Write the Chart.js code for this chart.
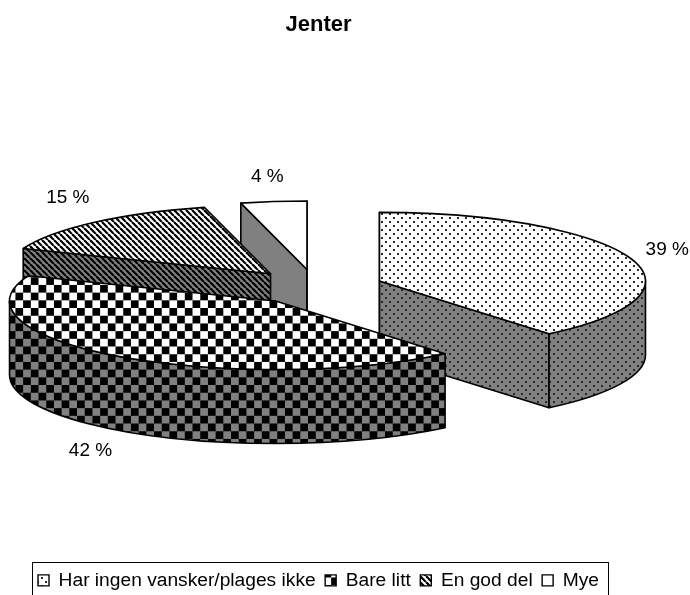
<!DOCTYPE html>
<html>
<head>
<meta charset="utf-8">
<title>Jenter</title>
<style>
  html, body { margin: 0; padding: 0; background: #fff; }
  canvas { display: block; }
</style>
<script src="https://cdn.jsdelivr.net/npm/chart.js@4/dist/chart.umd.min.js"></script>
</head>
<body>
<canvas id="pieChart" width="690" height="595"></canvas>
<script>
const titleText = 'Jenter';
const categories = ['Har ingen vansker/plages ikke', 'Bare litt', 'En god del', 'Mye'];
const shares = [39, 42, 15, 4];
const fills = ['dots', 'checks', 'stripes', 'plain'];

// utseende: flat kakediagram tippet bakover, med synlig sidevegg
const tilt = 0.2575;
const wallDepth = 74;
const explode = 68;
const pieRadius = 266;
const pieShift = { x: -3, y: -18 };
const labelNudge = [[0, 0], [-2, -1], [3, -7], [1, -1]];
const drawOrder = [3, 2, 0, 1];
const paper = '#ffffff';
const wallPaper = '#808080';
const font = '"Liberation Sans", Arial, sans-serif';

function makeTile(kind, bg) {
  const size = { dots: 8, checks: 16, stripes: 6, plain: 2 }[kind];
  const c = document.createElement('canvas');
  c.width = c.height = size;
  const g = c.getContext('2d');
  g.fillStyle = bg;
  g.fillRect(0, 0, size, size);
  g.fillStyle = '#000';
  g.strokeStyle = '#000';
  if (kind === 'dots') {
    g.fillStyle = '#2a2a2a';
    g.fillRect(1, 1, 2, 2);
    g.fillRect(5, 5, 2, 2);
  } else if (kind === 'checks') {
    g.fillRect(0, 0, 8, 8);
    g.fillRect(8, 8, 8, 8);
  } else if (kind === 'stripes') {
    g.lineWidth = 2.2;
    [-6, 0, 6].forEach(x => {
      g.beginPath();
      g.moveTo(x, 0);
      g.lineTo(x + 6, 6);
      g.stroke();
    });
  }
  const pattern = g.createPattern(c, 'repeat');
  if (kind === 'checks') pattern.setTransform(new DOMMatrix().scale(0.9625));
  return pattern;
}

const topPatterns = fills.map(f => makeTile(f, paper));
const wallPatterns = fills.map(f => makeTile(f, wallPaper));

// Chart.js regner ut vinkler og radius, her legges de ned i perspektiv
const pie3d = {
  id: 'pie3d',
  beforeDatasetDraw(chart, args) {
    const ctx = chart.ctx;
    const arcs = args.meta.data;
    const centerY = arcs[0].y;
    const px = x => x + pieShift.x;
    const py = y => centerY + pieShift.y + (y - centerY) * tilt;

    drawOrder.forEach(i => {
      const arc = arcs[i];
      const { x, y, startAngle: s, endAngle: e, outerRadius: r } = arc;
      const push = arc.options.offset;
      const mid = (s + e) / 2;
      const ax = px(x + Math.cos(mid) * push);
      const ay = py(y + Math.sin(mid) * push);
      const ry = r * tilt;

      ctx.save();
      ctx.lineWidth = 1.6;
      ctx.lineJoin = 'round';
      ctx.strokeStyle = '#000';
      ctx.fillStyle = wallPatterns[i];

      // snittflatene, bare de som vender mot betrakteren
      [[s, -Math.cos(s)], [e, Math.cos(e)]].forEach(([a, facing]) => {
        if (facing < -1e-6) return;
        const rimX = ax + r * Math.cos(a);
        const rimY = ay + ry * Math.sin(a);
        ctx.beginPath();
        ctx.moveTo(ax, ay);
        ctx.lineTo(rimX, rimY);
        ctx.lineTo(rimX, rimY + wallDepth);
        ctx.lineTo(ax, ay + wallDepth);
        ctx.closePath();
        ctx.fill();
        ctx.stroke();
      });

      // ytterveggen
      const a0 = Math.max(s, 0);
      const a1 = Math.min(e, Math.PI);
      if (a0 < a1) {
        ctx.beginPath();
        ctx.ellipse(ax, ay, r, ry, 0, a0, a1);
        ctx.ellipse(ax, ay + wallDepth, r, ry, 0, a1, a0, true);
        ctx.closePath();
        ctx.fill();
        ctx.stroke();
      }

      // toppflaten
      ctx.fillStyle = arc.options.backgroundColor;
      ctx.beginPath();
      ctx.moveTo(ax, ay);
      ctx.ellipse(ax, ay, r, ry, 0, s, e);
      ctx.closePath();
      ctx.fill();
      ctx.stroke();
      ctx.restore();
    });

    // prosentetiketter utenfor hver bit
    ctx.save();
    ctx.font = '19px ' + font;
    ctx.fillStyle = '#000';
    ctx.textAlign = 'center';
    ctx.textBaseline = 'middle';
    arcs.forEach((arc, i) => {
      const mid = (arc.startAngle + arc.endAngle) / 2;
      const rim = arc.outerRadius + arc.options.offset;
      const drop = Math.sin(mid) > 0 ? wallDepth : 0;
      const tx = px(arc.x + Math.cos(mid) * (rim + 42)) - 2 + labelNudge[i][0];
      const ty = py(arc.y + Math.sin(mid) * rim) + drop + Math.sin(mid) * 25 + 1 + labelNudge[i][1];
      ctx.fillText(shares[i] + ' %', tx, ty);
    });
    ctx.restore();
    return false;
  },
  afterDraw(chart) {
    const boxes = chart.legend.legendHitBoxes;
    const last = boxes[boxes.length - 1];
    const ctx = chart.ctx;
    ctx.save();
    ctx.strokeStyle = '#000';
    ctx.lineWidth = 1;
    ctx.strokeRect(Math.round(boxes[0].left - 6) + 0.5, Math.round(boxes[0].top - 9) + 0.5,
      Math.round(last.left + last.width - boxes[0].left + 15), 60);
    ctx.restore();
  }
};

new Chart(document.getElementById('pieChart'), {
  type: 'pie',
  data: {
    labels: categories,
    datasets: [{
      data: shares,
      backgroundColor: topPatterns,
      borderWidth: 0,
      offset: explode
    }]
  },
  options: {
    responsive: false,
    animation: false,
    radius: pieRadius,
    layout: { padding: { left: 0, right: 53, top: 0, bottom: -5 } },
    events: [],
    plugins: {
      tooltip: { enabled: false },
      title: {
        display: true,
        text: titleText,
        color: '#000',
        font: { family: font, size: 22, weight: 'bold' },
        padding: { top: 12, bottom: 10 }
      },
      legend: {
        position: 'bottom',
        labels: {
          color: '#000',
          font: { family: font, size: 19.2 },
          boxWidth: 11,
          boxHeight: 11,
          padding: 9.5,
          generateLabels: () => categories.map((text, i) => ({
            text,
            fillStyle: topPatterns[i],
            strokeStyle: '#000',
            lineWidth: 1.4,
            index: i
          }))
        }
      }
    }
  },
  plugins: [pie3d]
});
</script>
</body>
</html>
